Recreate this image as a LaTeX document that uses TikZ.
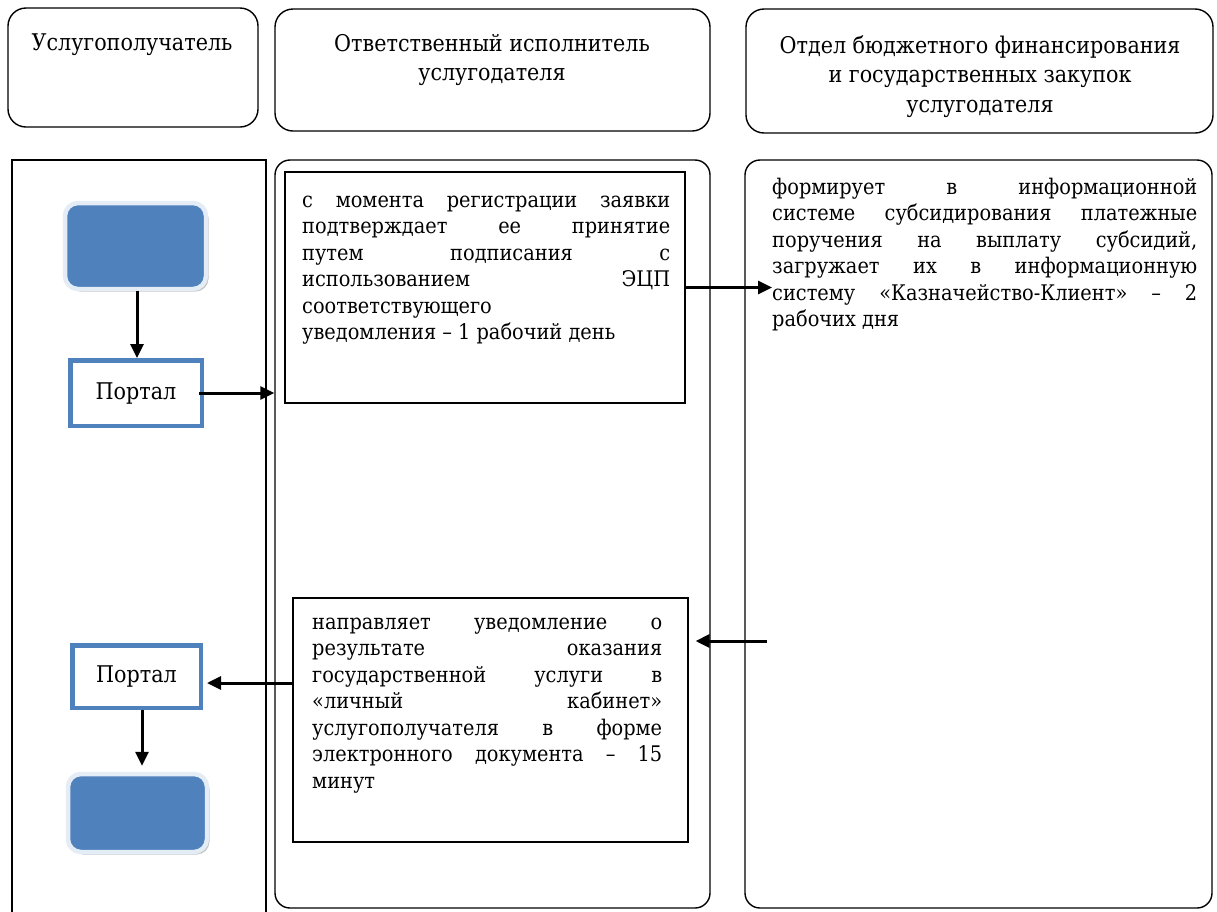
\documentclass[tikz,border=0pt]{standalone}
\usepackage{fontspec}
\setmainfont{DejaVu Serif Condensed}
\usetikzlibrary{arrows.meta,calc,shadows}
\definecolor{cblue}{HTML}{4F81BD}
\definecolor{cpale}{HTML}{E4ECF5}
\begin{document}
\begin{tikzpicture}[x=1pt,y=-1pt,
  hdr/.style={draw, line width=1.4pt, rounded corners=18pt},
  lane/.style={draw, line width=1.4pt},
  rlane/.style={draw, line width=1.4pt, rounded corners=15pt},
  blk/.style={draw, line width=1.1pt},
  blueblk/.style={fill=cblue, draw=cpale, line width=4.5pt, rounded corners=13pt,
     drop shadow={shadow xshift=2.5pt, shadow yshift=-2.5pt, fill=black!40, opacity=0.6}},
  portal/.style={draw=cblue, line width=4.5pt, fill=white, font=\fontsize{23}{26}\selectfont},
  arr/.style={line width=3pt, -{Triangle[length=14pt,width=13pt]}},
  hdrtext/.style={inner sep=0pt, align=center, anchor=north, font=\fontsize{23}{29.5}\selectfont},
  body/.style={inner sep=0pt, anchor=base west}
]
\useasboundingbox (0,0) rectangle (1217,911);
\fill[white] (0,0) rectangle (1217,911);

% headers
\node[hdr, minimum width=250pt, minimum height=119pt] (h1) at (133,67.5) {};
\node[hdr, minimum width=435pt, minimum height=122pt] (h2) at (492.5,70) {};
\node[hdr, minimum width=467pt, minimum height=124pt] (h3) at (979.5,71) {};
\node[hdrtext] (h1t) at (132,34) {Услугополучатель};
\node[hdrtext] (h2t) at (492,34) {Ответственный исполнитель\\услугодателя};
\node[hdrtext] (h3t) at (980,35) {Отдел бюджетного финансирования\\и государственных закупок\\услугодателя};

% lanes
\node[lane, minimum width=254pt, minimum height=770pt] (lane1) at (139,545) {};
\node[rlane, minimum width=435pt, minimum height=748pt] (lane2) at (492.5,534) {};
\node[rlane, minimum width=467pt, minimum height=748pt] (lane3) at (978.5,534) {};

% lane 1 elements
\node[blueblk, minimum width=141pt, minimum height=86pt] (b1) at (135.5,246) {};
\node[portal, minimum width=131.5pt, minimum height=65.5pt] (p1) at (136,393) {Портал};
\node[portal, minimum width=128.5pt, minimum height=62.5pt] (p2) at (136.5,676.5) {Портал};
\node[blueblk, minimum width=139pt, minimum height=78pt] (b2) at (137.5,813) {};

% boxes
\node[blk, minimum width=400pt, minimum height=231pt] (box1) at (485,287.5) {};
\node[blk, minimum width=395pt, minimum height=244pt] (box2) at (490.5,720) {};

\node[body] (t1) at (302,207) {\parbox[t]{368pt}{\fontsize{21.5}{26.5}\selectfont
с момента регистрации заявки\linebreak
подтверждает ее принятие\linebreak
путем подписания с\linebreak
использованием ЭЦП\linebreak
соответствующего\\
уведомления – 1 рабочий день}};

\node[body] (t3) at (772,194) {\parbox[t]{425pt}{\fontsize{21.5}{26.5}\selectfont
формирует в информационной\linebreak
системе субсидирования платежные\linebreak
поручения на выплату субсидий,\linebreak
загружает их в информационную\linebreak
систему «Казначейство-Клиент» – 2\linebreak
рабочих дня}};

\node[body] (t2) at (312,629) {\parbox[t]{350pt}{\fontsize{21.5}{26.5}\selectfont
направляет уведомление о\linebreak
результате оказания\linebreak
государственной услуги в\linebreak
«личный кабинет»\linebreak
услугополучателя в форме\linebreak
электронного документа – 15\linebreak
минут}};

% connectors
\coordinate (c3) at (767,641);
\coordinate (c2) at (0,683);
\draw[arr] (b1.south -| 137,0) -- (p1.north -| 137,0);
\draw[arr] ($(p1.east)+(-5,0)$) -- (p1.east -| lane2.west);
\draw[arr] (box1.east) -- (box1.east -| t3.west);
\draw[arr] (c3) -- ($(c3 -| box2.east)+(7,0)$);
\draw[arr] (box2.west |- c2) -- ($(p2.east |- c2)+(4,0)$);
\draw[arr, shorten >=6pt] (p2.south -| 142,0) -- (b2.north -| 142,0);
\end{tikzpicture}
\end{document}
